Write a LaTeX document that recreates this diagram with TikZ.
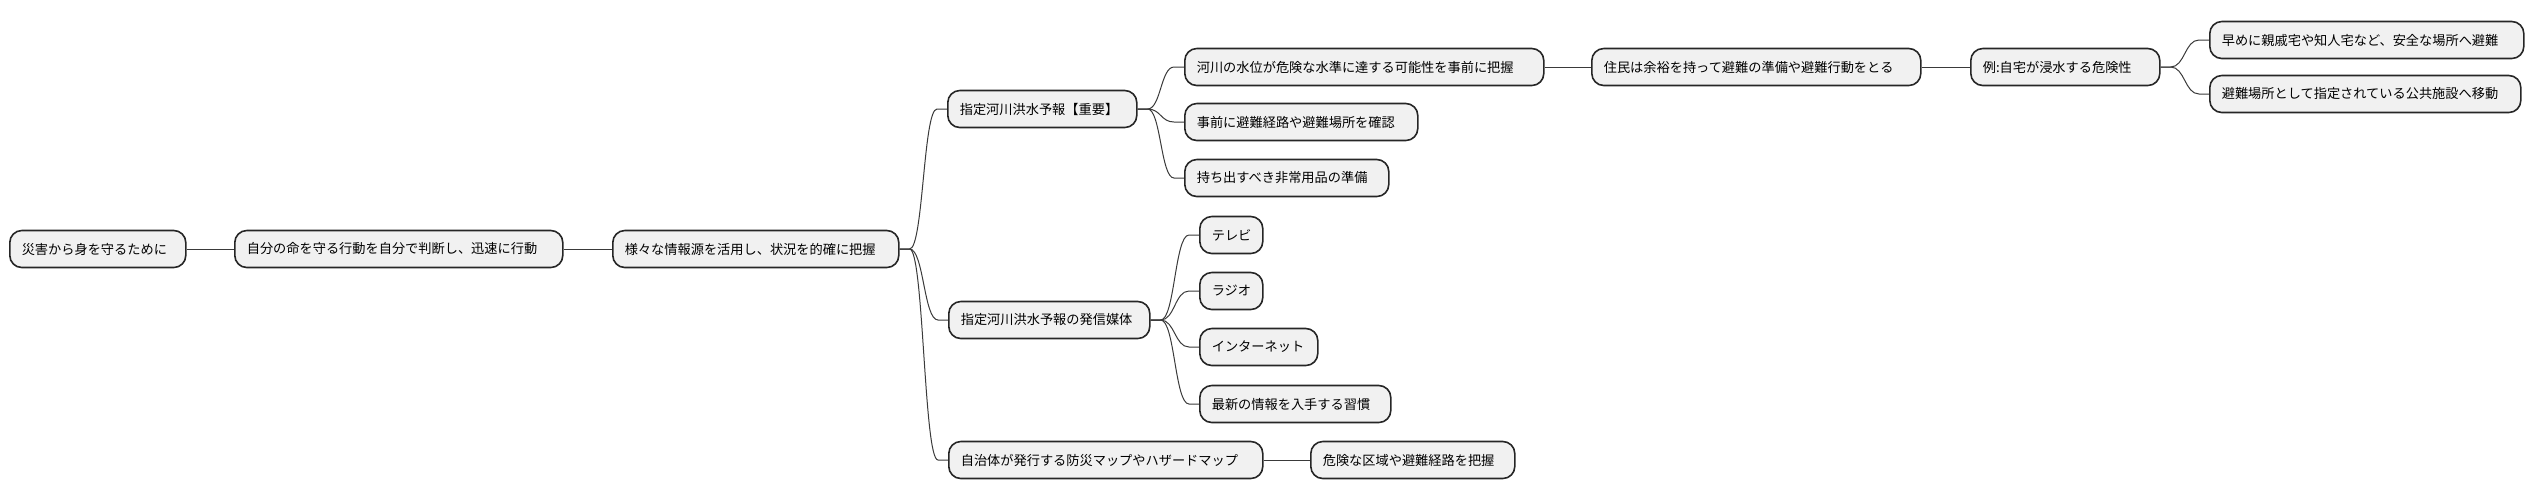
\documentclass[tikz,border=0pt]{standalone}
\usepackage{fontspec}
\newfontfamily\jp{Noto Sans CJK JP}
\usetikzlibrary{calc}
\definecolor{boxfill}{HTML}{F1F1F1}
\definecolor{boxline}{HTML}{262626}
\definecolor{linkline}{HTML}{3A3A3A}
\tikzset{
  box/.style={draw=boxline, fill=boxfill, line width=0.8pt, rounded corners=6pt,
    anchor=west, minimum height=18.5pt, inner xsep=6pt, inner ysep=0pt,
    font=\jp\fontsize{6.6}{8}\selectfont, text=black, align=left},
  link/.style={draw=linkline, line width=0.5pt},
}
\newcommand\boxw[5]{% name, left, right, cy, text
  \node[box, text width={(#3-#2)*0.5pt-12pt}] (#1) at (#2,#4) {#5};}
\newcommand\linkit[2]{%
  \draw[link] let \p1=(#1.east), \p2=(#2.west) in
    (\p1) -- ++(5pt,0) .. controls ({(\x1+\x2)/2},\y1) and ({(\x1+\x2)/2},\y2) .. ($(\p2)+(-5pt,0)$) -- (\p2);}
\newcommand\straight[2]{\draw[link] (#1.east) -- (#2.west);}
\begin{document}
\begin{tikzpicture}[x=0.5pt,y=-0.5pt]
\useasboundingbox (0,0) rectangle (2533,500);
\boxw{n1}{9}{185}{249}{災害から身を守るために}
\boxw{n2}{234}{562}{249}{自分の命を守る行動を自分で判断し、迅速に行動}
\boxw{n3}{612}{898}{249}{様々な情報源を活用し、状況を的確に把握}
\boxw{a}{947}{1136}{109}{指定河川洪水予報【重要】}
\boxw{a1}{1184}{1543}{67}{河川の水位が危険な水準に達する可能性を事前に把握}
\boxw{a2}{1184}{1417}{122}{事前に避難経路や避難場所を確認}
\boxw{a3}{1184}{1388}{178}{持ち出すべき非常用品の準備}
\boxw{ax}{1591}{1920}{67}{住民は余裕を持って避難の準備や避難行動をとる}
\boxw{ay}{1970}{2159}{67}{例:自宅が浸水する危険性}
\boxw{ay1}{2209}{2523}{40}{早めに親戚宅や知人宅など、安全な場所へ避難}
\boxw{ay2}{2209}{2520}{94}{避難場所として指定されている公共施設へ移動}
\boxw{b}{948}{1149}{320}{指定河川洪水予報の発信媒体}
\boxw{b1}{1199}{1262}{235}{テレビ}
\boxw{b2}{1199}{1262}{291}{ラジオ}
\boxw{b3}{1199}{1317}{347}{インターネット}
\boxw{b4}{1199}{1390}{404}{最新の情報を入手する習慣}
\boxw{c}{948}{1262}{460}{自治体が発行する防災マップやハザードマップ}
\boxw{c1}{1310}{1514}{460}{危険な区域や避難経路を把握}
\straight{n1}{n2}
\straight{n2}{n3}
\linkit{n3}{a}
\linkit{n3}{b}
\linkit{n3}{c}
\linkit{a}{a1}
\linkit{a}{a2}
\linkit{a}{a3}
\straight{a1}{ax}
\straight{ax}{ay}
\linkit{ay}{ay1}
\linkit{ay}{ay2}
\linkit{b}{b1}
\linkit{b}{b2}
\linkit{b}{b3}
\linkit{b}{b4}
\straight{c}{c1}
\end{tikzpicture}
\end{document}
